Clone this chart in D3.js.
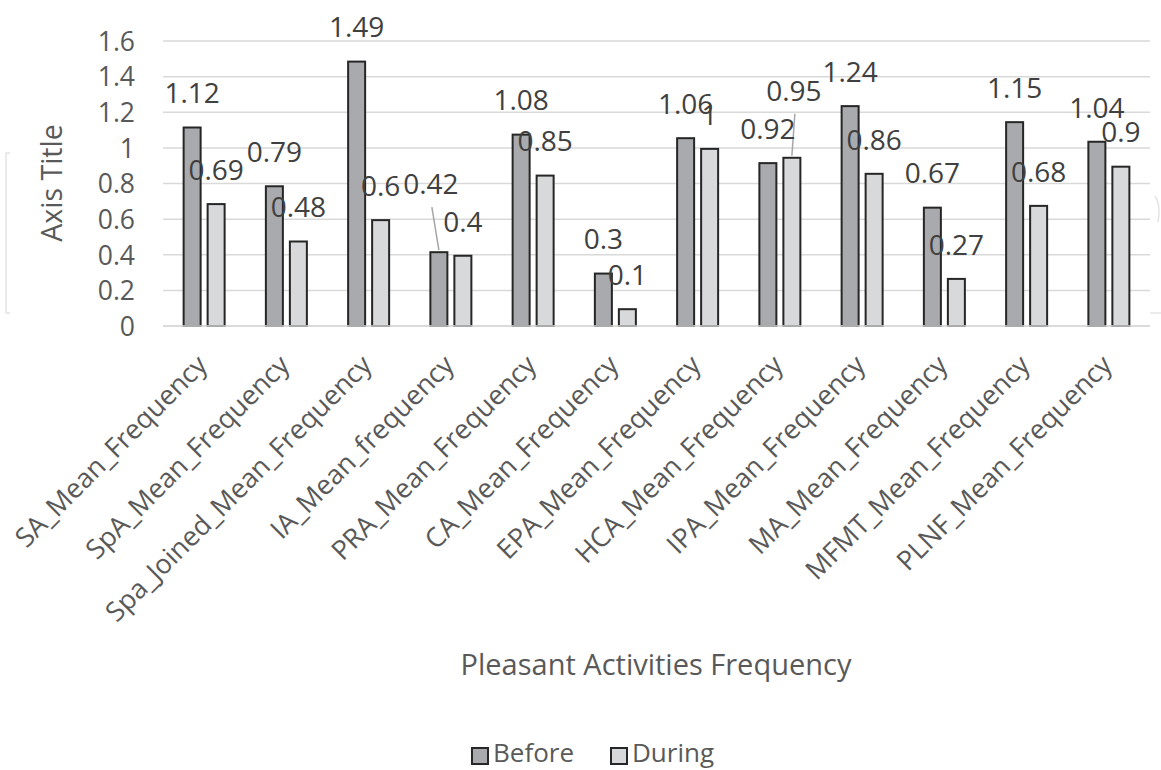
<!DOCTYPE html>
<html>
<head>
<meta charset="utf-8">
<script src="https://cdn.jsdelivr.net/npm/d3@7"></script>
<style>
  html, body { margin: 0; padding: 0; background: #fff; }
  svg { display: block; }
  text { font-family: "Open Sans", sans-serif; }
</style>
</head>
<body>
<svg id="chart" width="1161" height="770"></svg>
<script>
// ---- data ----
const categories = [
  "SA_Mean_Frequency", "SpA_Mean_Frequency", "Spa_Joined_Mean_Frequency",
  "IA_Mean_frequency", "PRA_Mean_Frequency", "CA_Mean_Frequency",
  "EPA_Mean_Frequency", "HCA_Mean_Frequency", "IPA_Mean_Frequency",
  "MA_Mean_Frequency", "MFMT_Mean_Frequency", "PLNF_Mean_Frequency"
];
const seriesNames = ["Before", "During"];
const beforeValues = [1.12, 0.79, 1.49, 0.42, 1.08, 0.3, 1.06, 0.92, 1.24, 0.67, 1.15, 1.04];
const duringValues = [0.69, 0.48, 0.6, 0.4, 0.85, 0.1, 1, 0.95, 0.86, 0.27, 0.68, 0.9];
const yTicks = [0, 0.2, 0.4, 0.6, 0.8, 1, 1.2, 1.4, 1.6];
const xAxisTitle = "Pleasant Activities Frequency";
const yAxisTitle = "Axis Title";

// labels that Excel moved away from their bars (drawn with leader lines)
const movedLabels = [
  { cat: 3, series: "Before", dx: -8, dy: -34 },
  { cat: 7, series: "During", dx: 2, dy: -33 }
];

const colors = { Before: "#a9aaad", During: "#d8d9db" };

// ---- layout ----
const svg = d3.select("#chart");
const plot = { left: 163, right: 1150, top: 41, bottom: 326 };

const x0 = d3.scaleBand().domain(categories).range([plot.left, plot.right]).padding(0);
const groupHalf = 21.5;
const x1 = d3.scaleBand().domain(seriesNames)
  .range([x0.bandwidth() / 2 - groupHalf, x0.bandwidth() / 2 + groupHalf])
  .paddingInner(5 / 24).paddingOuter(0);
const y = d3.scaleLinear().domain([0, 1.6]).range([plot.bottom, plot.top]);

const rows = categories.map((c, i) => ({ cat: c, i, Before: beforeValues[i], During: duringValues[i] }));

// faint artifacts from source image
const faint = svg.append("g").attr("stroke", "#e4e4e4").attr("stroke-width", 1.5).attr("fill", "none");
faint.append("path").attr("d", "M10,153 H6 V313 H10");
faint.append("path").attr("d", "M1155,196 Q1161,205 1158,222");
faint.append("path").attr("d", "M1150,313 H1161");

// gridlines
svg.append("g")
  .selectAll("line").data(yTicks).join("line")
  .attr("x1", plot.left).attr("x2", plot.right)
  .attr("y1", d => y(d)).attr("y2", d => y(d))
  .attr("stroke", "#d9d9d9").attr("stroke-width", 1.5);

// y axis tick labels
const yAxis = d3.axisLeft(y).tickValues(yTicks).tickSize(0).tickPadding(0)
  .tickFormat(d => String(+d.toFixed(1)));
const yg = svg.append("g").attr("transform", `translate(135,0)`).call(yAxis);
yg.select(".domain").remove();
yg.selectAll("text").attr("font-size", 26.5).attr("fill", "#595959")
  .attr("font-family", "'Open Sans', sans-serif").attr("dy", "0.35em");

// bars
const groups = svg.append("g").selectAll("g").data(rows).join("g")
  .attr("transform", d => `translate(${x0(d.cat)},0)`);
groups.selectAll("rect").data(d => seriesNames.map(s => ({ s, v: d[s] }))).join("rect")
  .attr("x", d => x1(d.s) + 1)
  .attr("width", x1.bandwidth() - 2)
  .attr("y", d => y(d.v) + 1)
  .attr("height", d => y(0) - y(d.v) - 1)
  .attr("fill", d => colors[d.s])
  .attr("stroke", "#262626").attr("stroke-width", 2);

// category axis line
svg.append("line").attr("x1", plot.left).attr("x2", plot.right)
  .attr("y1", y(0)).attr("y2", y(0)).attr("stroke", "#d9d9d9").attr("stroke-width", 1.5);

// data labels
const labelData = [];
rows.forEach(r => seriesNames.forEach(s => {
  const m = movedLabels.find(o => o.cat === r.i && o.series === s);
  const cx = x0(r.cat) + x1(s) + x1.bandwidth() / 2;
  labelData.push({ v: r[s], cx, top: y(r[s]), dx: m ? m.dx : 0, dy: m ? m.dy : 0, moved: !!m });
}));
const lab = svg.append("g");
lab.selectAll("line").data(labelData.filter(d => d.moved)).join("line")
  .attr("x1", d => d.cx + d.dx + 1).attr("y1", d => d.top - 33 + d.dy + 23)
  .attr("x2", d => d.cx).attr("y2", d => d.top - 1)
  .attr("stroke", "#a6a6a6").attr("stroke-width", 1.5);
lab.selectAll("text").data(labelData).join("text")
  .attr("x", d => d.cx + d.dx)
  .attr("y", d => d.top - 33 + d.dy)
  .attr("dy", "0.35em")
  .attr("text-anchor", "middle")
  .attr("font-size", 28).attr("fill", "#404040")
  .text(d => String(d.v));

// x axis category labels
const xg = svg.append("g").attr("transform", `translate(0,${plot.bottom})`)
  .call(d3.axisBottom(x0).tickSize(0).tickPadding(0));
xg.select(".domain").remove();
xg.selectAll("text")
  .attr("font-size", 27).attr("fill", "#595959")
  .attr("font-family", "'Open Sans', sans-serif")
  .attr("text-anchor", "end")
  .attr("y", 0).attr("dy", "0.35em")
  .attr("transform", "translate(-2,34) rotate(-45)");

// axis titles
svg.append("text").attr("x", 656).attr("y", 665).attr("dy", "0.35em")
  .attr("text-anchor", "middle").attr("font-size", 29).attr("fill", "#595959")
  .text(xAxisTitle);
svg.append("text").attr("transform", "translate(52,183) rotate(-90)").attr("dy", "0.35em")
  .attr("text-anchor", "middle").attr("font-size", 28.5).attr("fill", "#595959")
  .text(yAxisTitle);

// legend
const legend = svg.append("g").attr("transform", "translate(471,747)");
const li = legend.selectAll("g").data(seriesNames).join("g")
  .attr("transform", (d, i) => `translate(${i * 139},0)`);
li.append("rect").attr("x", 1).attr("y", 1).attr("width", 16).attr("height", 16)
  .attr("fill", d => colors[d]).attr("stroke", "#262626").attr("stroke-width", 2);
li.append("text").attr("x", 22).attr("y", 6).attr("dy", "0.35em")
  .attr("font-size", 26).attr("fill", "#595959").text(d => d);
</script>
</body>
</html>
